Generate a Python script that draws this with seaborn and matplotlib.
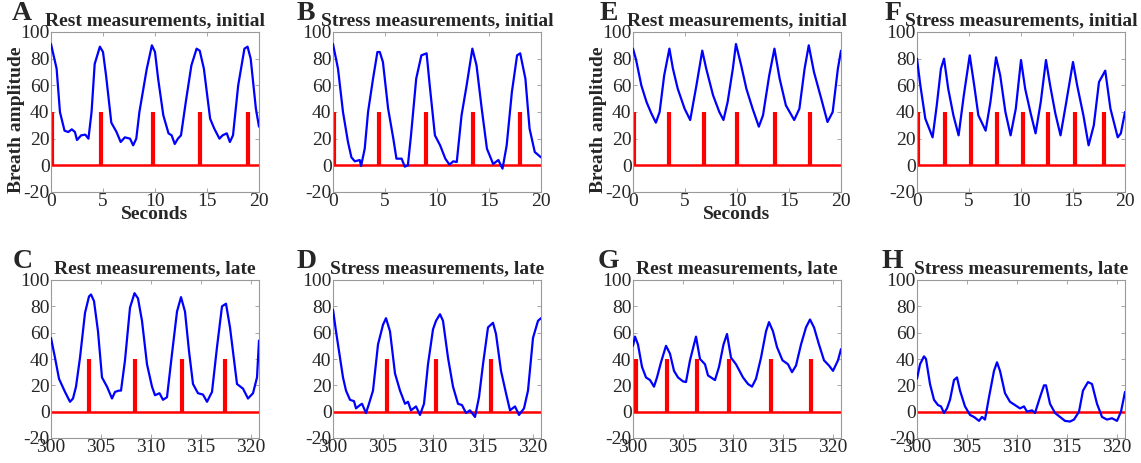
import matplotlib
matplotlib.use("Agg")
import matplotlib.pyplot as plt
import seaborn as sns
import pandas as pd

# Panel A: rest, initial
a_t = [0, 0.54, 0.86, 1.3, 1.66, 2.0, 2.3, 2.5, 2.9, 3.3, 3.6, 3.9, 4.2, 4.7, 5.0, 5.3, 5.8, 6.3, 6.7,
       7.1, 7.6, 7.9, 8.2, 8.5, 9.2, 9.7, 10.0, 10.3, 10.8, 11.3, 11.6, 11.9, 12.2, 12.5, 12.96, 13.5,
       14.0, 14.3, 14.7, 15.3, 15.7, 16.2, 16.5, 16.9, 17.2, 17.5, 18.0, 18.6, 18.9, 19.2, 19.7, 20.0]
a_v = [91, 72.5, 40, 26, 25, 27, 25, 19, 22.5, 23, 20, 40, 76, 89, 85, 67, 32, 25, 17.5,
       21, 20, 15, 20, 40, 72, 90, 85, 65, 37.5, 24, 22.5, 16, 20, 22.5, 47.5, 75,
       87.5, 86, 72.5, 35, 27.5, 20, 22.5, 24, 17.5, 22.5, 60, 87.5, 89, 80, 42.5, 29]
a_spikes = [0.06, 4.83, 9.76, 14.3, 18.9]

# Panel B: stress, initial
b_t = [0, 0.48, 0.96, 1.44, 1.77, 2.1, 2.57, 2.7, 3.05, 3.37, 3.85, 4.27, 4.5, 4.8, 5.3, 5.8, 6.1, 6.6,
       6.9, 7.2, 7.5, 8.0, 8.5, 9.0, 9.3, 9.8, 10.3, 10.8, 11.2, 11.56, 11.9, 12.36, 12.85, 13.4,
       13.8, 14.3, 14.8, 15.4, 15.9, 16.3, 16.7, 17.2, 17.7, 18.0, 18.5, 18.9, 19.4, 20.0]
b_v = [91, 72.5, 40, 17.5, 6, 3, 4, -0.5, 12.5, 40, 65, 85, 85, 77.5, 42.5, 20, 5, 5,
       -1, 0, 22.5, 65, 82.5, 84, 60, 22.5, 15, 5, 0.5, 3, 2.5, 37.5, 60, 87.5,
       75, 42.5, 12.5, 1, 4, -2.5, 15, 55, 82.5, 84, 65, 27.5, 10, 6]
b_spikes = [0.06, 4.43, 8.9, 13.5, 18.0]

# Panel C: rest, late
c_t = [300, 300.4, 300.8, 301.1, 301.4, 301.9, 302.2, 302.5, 302.9, 303.4, 303.8, 304.0, 304.3, 304.7,
       305.1, 305.6, 306.1, 306.4, 306.8, 307.0, 307.4, 307.9, 308.35, 308.7, 309.1, 309.6, 310.1,
       310.4, 310.85, 311.2, 311.6, 312.1, 312.6, 313.0, 313.4, 313.8, 314.2, 314.7, 315.2, 315.6,
       316.1, 316.6, 317.1, 317.5, 317.9, 318.6, 319.2, 319.7, 320.2, 320.6, 320.8]
c_v = [56, 41, 25, 20, 15, 7.5, 10, 19, 41, 75, 87.5, 89, 84, 61,
       26, 19, 10, 15, 16, 16, 39, 79, 90, 86, 69, 36, 19,
       12.5, 14, 9, 11, 44, 76, 87, 76, 46, 21, 14, 13, 7.5,
       15, 49, 80, 82, 64, 21, 17.5, 10, 14, 26, 54]
c_spikes = [303.76, 308.4, 313.1, 317.4]

# Panel D: stress, late
d_t = [300, 300.3, 300.7, 301.0, 301.3, 301.7, 302.1, 302.3, 302.7, 302.9, 303.3, 303.6, 304.0, 304.5,
       305.0, 305.3, 305.7, 306.2, 306.7, 307.2, 307.5, 307.8, 308.3, 308.7, 309.1, 309.5, 310.0,
       310.3, 310.7, 311.0, 311.5, 312.0, 312.5, 312.9, 313.3, 313.7, 314.2, 314.6, 315.0, 315.5,
       316.0, 316.3, 316.8, 317.3, 317.7, 318.2, 318.6, 319.1, 319.5, 320.0, 320.5, 320.8]
d_v = [77.5, 61, 41, 26, 16, 9, 8, 2.5, 5, 6, -1, 6, 16, 51,
       66, 71, 61, 29, 16, 6, 7.5, 1, 4, -2.5, 6, 36, 62.5,
       69, 74, 69, 41, 19, 6, 5, -1, 1, -4, 11, 36, 64,
       67.5, 59, 31, 14, 1, 4, -2.5, 2.5, 16, 56, 69, 71]
d_spikes = [305.4, 310.3, 315.8]

# Panel E: rest, initial
e_t = [0, 0.3, 0.8, 1.3, 1.76, 2.2, 2.56, 3.0, 3.5, 3.84, 4.3, 4.96, 5.5, 6.1, 6.66, 7.04, 7.7, 8.3,
       8.7, 9.1, 9.6, 9.9, 10.4, 10.9, 11.5, 12.1, 12.5, 13.1, 13.6, 14.1, 14.7, 15.5, 16.0, 16.5,
       16.9, 17.4, 18.1, 18.7, 19.2, 19.7, 20.0]
e_v = [87.5, 79, 60, 47.5, 39, 32, 40, 67.5, 87.5, 72.5, 57.5, 42.5, 34, 60, 86, 72.5, 52.5, 40,
       34, 47.5, 72.5, 91, 75, 57.5, 42.5, 29, 37.5, 67.5, 87.5, 65, 45, 34, 42.5, 72.5,
       90, 70, 50, 32.5, 40, 72.5, 86]
e_spikes = [0.1, 3.5, 6.8, 10.0, 13.7, 17.0]

# Panel F: stress, initial
f_t = [0, 0.32, 0.8, 1.1, 1.5, 1.9, 2.3, 2.6, 3.0, 3.5, 4.0, 4.5, 5.07, 5.5, 5.9, 6.6, 7.06, 7.6,
       8.0, 8.5, 9.0, 9.5, 10.0, 10.4, 10.9, 11.4, 11.9, 12.4, 12.8, 13.3, 13.8, 14.3, 15.0, 15.4,
       16.0, 16.5, 17.0, 17.5, 18.1, 18.6, 19.3, 19.6, 20.0]
f_v = [80, 60, 35, 29, 21, 45, 72.5, 80, 57.5, 37.5, 22.5, 52.5, 82.5, 60, 37.5, 26, 47.5, 81,
       67.5, 40, 22.5, 42.5, 79, 57.5, 40, 24, 47.5, 79, 60, 39, 22.5, 45, 77.5, 60,
       37.5, 15, 30, 62.5, 71, 42.5, 21, 24, 40]
f_spikes = [0.1, 2.7, 5.2, 7.7, 10.2, 12.6, 15.2, 18.0]

# Panel G: rest, late
g_t = [300, 300.2, 300.5, 300.9, 301.3, 301.7, 302.1, 302.4, 302.8, 303.3, 303.7, 304.1, 304.5, 305.0,
       305.3, 305.7, 306.1, 306.3, 306.7, 307.2, 307.5, 308.2, 308.6, 309.05, 309.4, 309.8, 310.3,
       311.0, 311.5, 311.9, 312.3, 312.8, 313.3, 313.6, 314.0, 314.4, 314.95, 315.5, 315.9, 316.3,
       316.8, 317.3, 317.7, 318.1, 318.6, 319.1, 319.6, 320.0, 320.5, 320.8]
g_v = [50, 57, 51, 34, 26, 24, 19, 26, 37.5, 50, 44, 31, 26, 23,
       22.5, 39, 51, 57, 40, 36, 27.5, 24, 34, 51, 59, 41, 36,
       26, 21, 19, 25, 41, 61, 68, 61, 49, 39, 36, 30, 35,
       51, 64, 70, 64, 51, 39, 35, 31, 39, 47.5]
g_spikes = [300.3, 303.4, 306.4, 309.55, 313.8, 317.8]

# Panel H: stress, late (no detected breaths)
h_t = [300, 300.3, 300.7, 300.9, 301.3, 301.7, 302.1, 302.4, 302.7, 303.0, 303.3, 303.7, 304.0, 304.3,
       304.8, 305.3, 305.7, 306.2, 306.5, 306.8, 307.2, 307.7, 308.0, 308.3, 308.8, 309.3, 309.8,
       310.3, 310.7, 311.0, 311.5, 311.8, 312.3, 312.7, 312.9, 313.3, 313.8, 314.3, 314.8, 315.3,
       315.7, 316.2, 316.6, 317.1, 317.5, 318.0, 318.5, 319.0, 319.5, 320.0, 320.4, 320.8]
h_v = [25, 36, 42, 40, 21, 9, 5, 4, -1, 2.5, 9, 24, 26, 16,
       4, -2.5, -4, -7, -4, -6, 11, 31, 37.5, 31, 14, 7.5, 5,
       2.5, 4, 0, 1, -1, 11, 20, 20, 6, -1, -4, -7, -7.5,
       -6, 0, 16, 22.5, 21, 6, -4, -6, -5, -7, 0, 15]
h_spikes = []

panels = [
    ("A", "Rest measurements, initial", a_t, a_v, a_spikes, 51, 0, -39),
    ("B", "Stress measurements, initial", b_t, b_v, b_spikes, 333, 0, -36),
    ("E", "Rest measurements, initial", e_t, e_v, e_spikes, 633, 0, -33),
    ("F", "Stress measurements, initial", f_t, f_v, f_spikes, 917, 0, -32),
    ("C", "Rest measurements, late", c_t, c_v, c_spikes, 51, 1, -38),
    ("D", "Stress measurements, late", d_t, d_v, d_spikes, 333, 1, -36),
    ("G", "Rest measurements, late", g_t, g_v, g_spikes, 633, 1, -35),
    ("H", "Stress measurements, late", h_t, h_v, h_spikes, 917, 1, -35),
]

sns.set_style("white")
plt.rcParams["font.family"] = "serif"
plt.rcParams["font.serif"] = ["Liberation Serif", "DejaVu Serif"]
plt.rcParams["axes.unicode_minus"] = False

W, H = 1141, 463
fig = plt.figure(figsize=(W / 100, H / 100), dpi=100)

for letter, title, t, v, spikes, left, row, letter_dx in panels:
    if row == 0:
        top, bottom = 32, 192
        xlim, xticks = (0, 20), [0, 5, 10, 15, 20]
    else:
        top, bottom = 280, 438
        xlim, xticks = (300, 320.8), [300, 305, 310, 315, 320]
    ax = fig.add_axes([left / W, (H - bottom) / H, 208 / W, (bottom - top) / H])

    df = pd.DataFrame({"t": t, "v": v})
    ax.axhline(0, color="#ff0000", lw=1.8, zorder=2)
    if spikes:
        ax.vlines(spikes, 0, 40, color="#ff0000", lw=3, zorder=2)
    sns.lineplot(data=df, x="t", y="v", ax=ax, color="#0000ff", lw=1.6, zorder=3)

    ax.set_xlim(*xlim)
    ax.set_ylim(-20, 100)
    ax.set_xticks(xticks)
    ax.set_yticks([-20, 0, 20, 40, 60, 80, 100])
    ax.tick_params(direction="in", length=3, width=0.6, color="#999999",
                   labelsize=14, pad=1, top=True, right=True, bottom=True, left=True)
    for sp in ax.spines.values():
        sp.set_color("#999999")
        sp.set_linewidth(0.8)
    ax.set_xlabel("")
    ax.set_ylabel("")

    ax.set_title(title, fontsize=14, fontweight="bold", pad=5)
    ax.text(letter_dx / 208, 1.0 + 6 / (bottom - top), letter, transform=ax.transAxes,
            fontsize=20, fontweight="bold", ha="left", va="bottom")

    if letter in ("A", "E"):
        ax.set_ylabel("Breath amplitude", fontsize=14, fontweight="bold")
        ax.yaxis.set_label_coords(-26 / 208, 0.45)
        ax.set_xlabel("Seconds", fontsize=14, fontweight="bold")
        ax.xaxis.set_label_coords(0.5, -0.085)

fig.savefig("out.png", dpi=100)
